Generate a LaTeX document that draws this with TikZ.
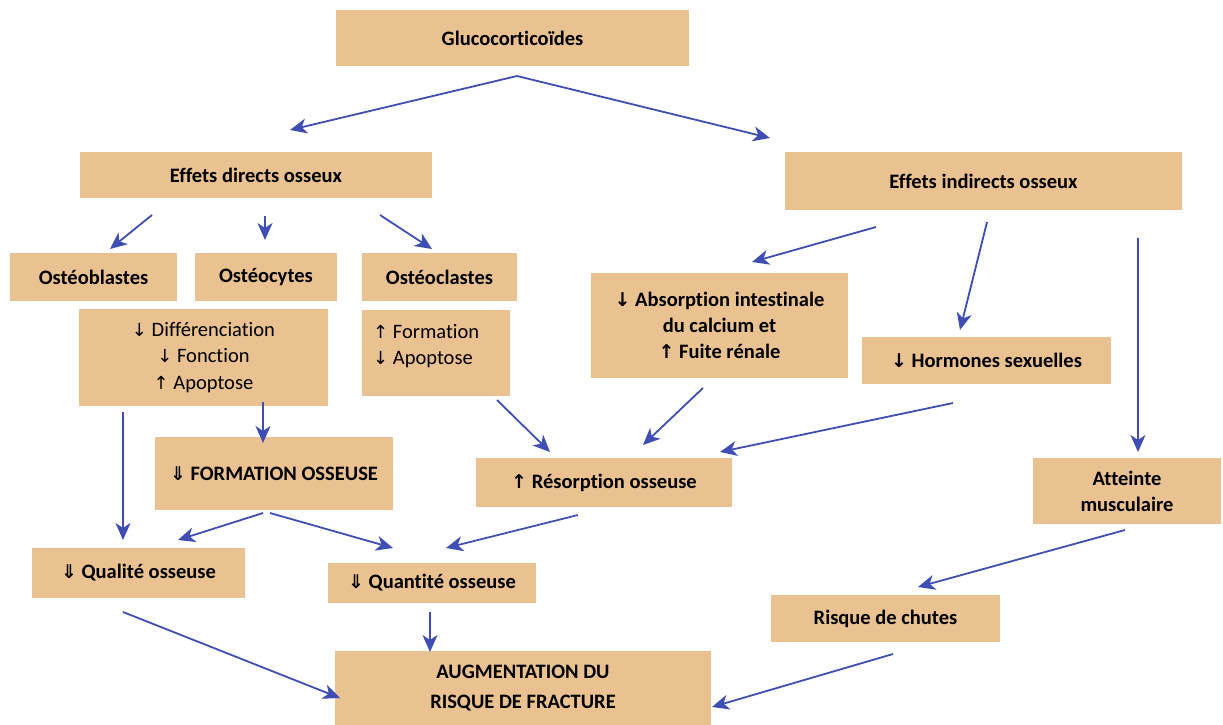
\documentclass[tikz,border=0pt]{standalone}
\usepackage{fontspec}
\setmainfont{Carlito}[Ligatures=NoCommon]
\newfontfamily\symf{DejaVu Sans}
\usetikzlibrary{arrows.meta}
\definecolor{boxfill}{RGB}{234,194,145}
\definecolor{arr}{RGB}{62,78,178}
\newcommand{\dar}{{\symf\fontsize{19}{19}\selectfont ↓}}
\newcommand{\uar}{{\symf\fontsize{19}{19}\selectfont ↑}}
\newcommand{\ddar}{{\symf\fontsize{19}{19}\selectfont ⇓}}
\newcommand{\dal}{{\symf\mdseries\fontsize{18}{18}\selectfont ↓}}
\newcommand{\ual}{{\symf\mdseries\fontsize{18}{18}\selectfont ↑}}
\tikzset{
  box/.style={fill=boxfill, draw=none, inner sep=0pt, text=black, align=center,
    font=\fontsize{20.5}{26}\selectfont\bfseries},
  plain/.style={inner sep=0pt, text=black, font=\fontsize{20.5}{26.5}\selectfont},
  conn/.style={draw=arr, line width=1.8pt, -{Stealth[length=17pt,width=15pt,inset=5pt]}}
}
\begin{document}
\begin{tikzpicture}[x=1pt,y=-1pt]
\useasboundingbox (0,0) rectangle (1223,725);
% boxes
\node[box, minimum width=353pt, minimum height=56pt] (gluco) at (512.5,38) {Glucocorticoïdes};
\node[box, minimum width=352pt, minimum height=46pt] (direct) at (256,175) {Effets directs osseux};
\node[box, minimum width=397pt, minimum height=58pt] (indirect) at (983.5,181) {Effets indirects osseux};
\node[box, minimum width=167pt, minimum height=48pt] (oblast) at (93.5,277) {Ostéoblastes};
\node[box, minimum width=142pt, minimum height=48pt] (ocyte) at (266,277) {Ostéocytes};
\node[box, minimum width=155pt, minimum height=48pt] (oclast) at (439.5,277) {Ostéoclastes};
\node[box, minimum width=249pt, minimum height=97pt, font=\fontsize{20.5}{26.5}\selectfont] (diff) at (203.5,357.5)
  {\dal{} Différenciation\\ \dal{} Fonction\\ \ual{} Apoptose};
\node[box, minimum width=148pt, minimum height=86pt] (ofx) at (436,353) {};
\node[plain, anchor=north west, align=left] (ofxt) at (373,324) {\ual{} Formation\\ \dal{} Apoptose};
\node[box, minimum width=257pt, minimum height=105pt] (absorp) at (719.5,325.5)
  {\dar{} Absorption intestinale\\ du calcium et\\ \uar{} Fuite rénale};
\node[box, minimum width=249pt, minimum height=47pt] (horm) at (986.5,360.5) {\dar{} Hormones sexuelles};
\node[box, minimum width=238pt, minimum height=73pt] (formation) at (274,473.5) {\ddar{} FORMATION OSSEUSE};
\node[box, minimum width=256pt, minimum height=49pt] (resorp) at (604,482.5) {\uar{} Résorption osseuse};
\node[box, minimum width=188pt, minimum height=66pt] (atteinte) at (1127,491) {Atteinte\\ musculaire};
\node[box, minimum width=213pt, minimum height=50pt] (qualite) at (138.5,573) {\ddar{} Qualité osseuse};
\node[box, minimum width=208pt, minimum height=40pt] (quantite) at (432,583) {\ddar{} Quantité osseuse};
\node[box, minimum width=229pt, minimum height=47pt] (chutes) at (885.5,618.5) {Risque de chutes};
\node[box, minimum width=376pt, minimum height=74pt, font=\fontsize{20.5}{30}\selectfont\bfseries] (fracture) at (523,688)
  {AUGMENTATION DU\\ RISQUE DE FRACTURE};
% connector end points
\coordinate (g0) at (517,76);
\coordinate (g1) at (290,130);
\coordinate (g2) at (770,138);
\coordinate (d1a) at (152,215); \coordinate (d1b) at (110,249);
\coordinate (d2a) at (265,216); \coordinate (d2b) at (265,240);
\coordinate (d3a) at (380,215); \coordinate (d3b) at (432,249);
\coordinate (i1a) at (876,227); \coordinate (i1b) at (752,262);
\coordinate (i2a) at (987,222); \coordinate (i2b) at (960,330);
\coordinate (i3a) at (1138,238); \coordinate (i3b) at (1138,452);
\coordinate (q1a) at (123,412); \coordinate (q1b) at (123,540);
\coordinate (f1a) at (263,402); \coordinate (f1b) at (263,443);
\coordinate (r1a) at (497,400); \coordinate (r1b) at (550,452);
\coordinate (r2a) at (703,388); \coordinate (r2b) at (643,445);
\coordinate (r3a) at (953,403); \coordinate (r3b) at (720,452);
\coordinate (fqa) at (263,513); \coordinate (fqb) at (178,540);
\coordinate (fna) at (270,513); \coordinate (fnb) at (393,548);
\coordinate (rna) at (578,515); \coordinate (rnb) at (446,548);
\coordinate (n1a) at (430,612); \coordinate (n1b) at (430,652);
\coordinate (l1a) at (123,612); \coordinate (l1b) at (340,698);
\coordinate (a1a) at (1125,530); \coordinate (a1b) at (918,587);
\coordinate (c1a) at (893,654); \coordinate (c1b) at (712,707);
% connectors
\draw[conn] (g0) -- (g1);
\draw[conn] (g0) -- (g2);
\draw[conn] (d1a) -- (d1b);
\draw[conn] (d2a) -- (d2b);
\draw[conn] (d3a) -- (d3b);
\draw[conn] (i1a) -- (i1b);
\draw[conn] (i2a) -- (i2b);
\draw[conn] (i3a) -- (i3b);
\draw[conn] (q1a) -- (q1b);
\draw[conn] (f1a) -- (f1b);
\draw[conn] (r1a) -- (r1b);
\draw[conn] (r2a) -- (r2b);
\draw[conn] (r3a) -- (r3b);
\draw[conn] (fqa) -- (fqb);
\draw[conn] (fna) -- (fnb);
\draw[conn] (rna) -- (rnb);
\draw[conn] (n1a) -- (n1b);
\draw[conn] (l1a) -- (l1b);
\draw[conn] (a1a) -- (a1b);
\draw[conn] (c1a) -- (c1b);
\end{tikzpicture}
\end{document}
